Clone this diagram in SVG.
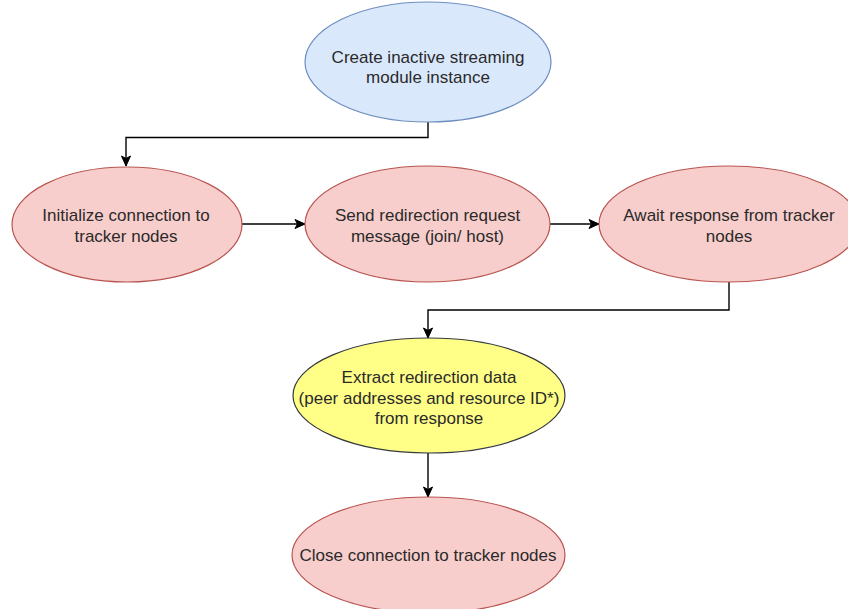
<svg xmlns="http://www.w3.org/2000/svg" width="848" height="609" viewBox="0 0 848 609">
  <style>
    .blue { fill: #dae8fc; stroke: #6c8ebf; stroke-width: 1.2; }
    .red { fill: #f8cecc; stroke: #b85450; stroke-width: 1.2; }
    .yellow { fill: #ffff88; stroke: #36393d; stroke-width: 1.2; }
    .label { font-family: "Liberation Sans", Arial, Helvetica, sans-serif; font-size: 17px; fill: #2a2a2a; text-anchor: middle; }
    .edge { fill: none; stroke: #000; stroke-width: 1.4; marker-end: url(#arrow); }
  </style>
  <defs>
    <marker id="arrow" markerUnits="userSpaceOnUse" markerWidth="12" markerHeight="12" viewBox="0 0 12 12" refX="11" refY="6" orient="auto">
      <path d="M1,1.5 L11,6 L1,10.5 L3.5,6 Z" fill="#000" stroke="#000" stroke-width="1"/>
    </marker>
  </defs>
  <rect width="848" height="609" fill="#fff"/>

  <g id="edges">
    <path class="edge" d="M428,122 V137.5 H126 V166"/>
    <path class="edge" d="M242,224 H305"/>
    <path class="edge" d="M550,224 H599"/>
    <path class="edge" d="M729,282 V310 H428 V338"/>
    <path class="edge" d="M428,453 V497"/>
  </g>

  <g id="create-instance">
    <ellipse class="blue" cx="428" cy="62" rx="123" ry="60"/>
    <text class="label" x="428" y="62.5">Create inactive streaming</text>
    <text class="label" x="428" y="83">module instance</text>
  </g>

  <g id="init-connection">
    <ellipse class="red" cx="127" cy="224.5" rx="115" ry="57.5"/>
    <text class="label" x="126" y="221">Initialize connection to</text>
    <text class="label" x="126" y="241.5">tracker nodes</text>
  </g>

  <g id="send-request">
    <ellipse class="red" cx="427.5" cy="224" rx="122.5" ry="58"/>
    <text class="label" x="427.5" y="221">Send redirection request</text>
    <text class="label" x="427.5" y="241.5">message (join/ host)</text>
  </g>

  <g id="await-response">
    <ellipse class="red" cx="729" cy="224" rx="130" ry="58"/>
    <text class="label" x="729" y="221">Await response from tracker</text>
    <text class="label" x="729" y="241.5">nodes</text>
  </g>

  <g id="extract-data">
    <ellipse class="yellow" cx="429" cy="395.5" rx="136" ry="57.5"/>
    <text class="label" x="429" y="383">Extract redirection data</text>
    <text class="label" x="429" y="403.5">(peer addresses and resource ID*)</text>
    <text class="label" x="429" y="424">from response</text>
  </g>

  <g id="close-connection">
    <ellipse class="red" cx="428.5" cy="555" rx="136.5" ry="58"/>
    <text class="label" x="428" y="561">Close connection to tracker nodes</text>
  </g>
</svg>
